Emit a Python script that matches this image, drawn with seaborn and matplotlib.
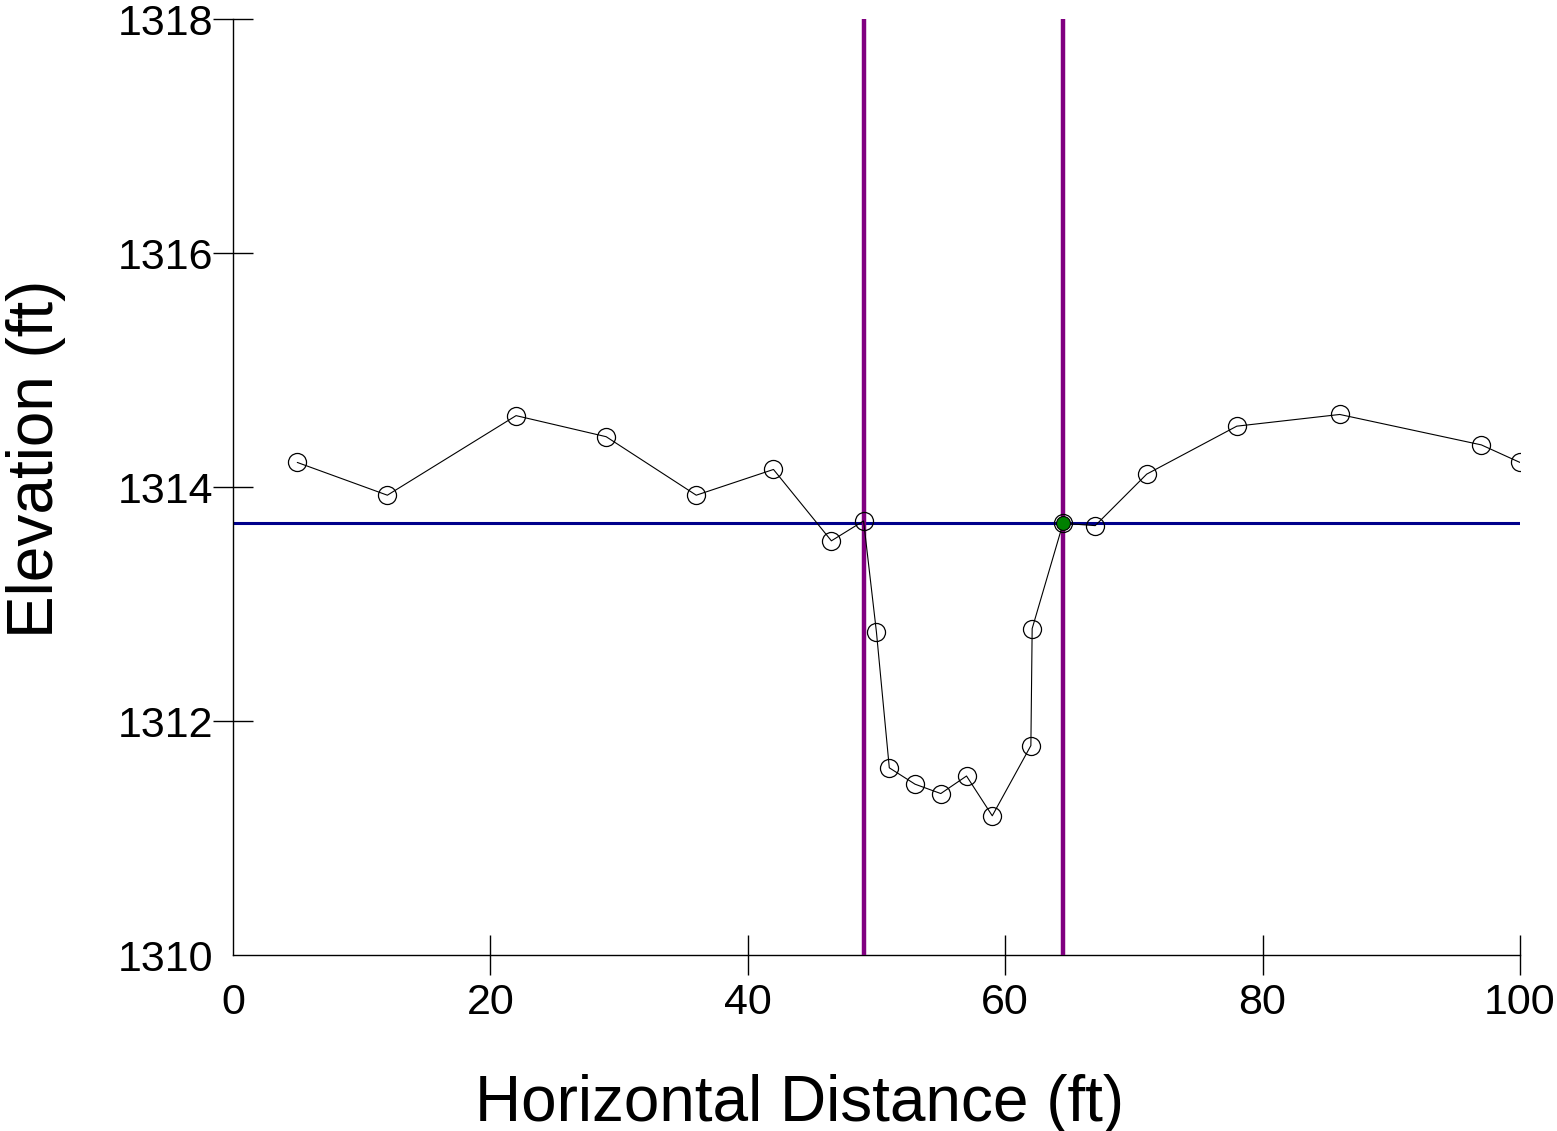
import pandas as pd
import matplotlib
import matplotlib.pyplot as plt
import seaborn as sns

# station / elevation of the surveyed cross section
station = [5, 12, 22, 29, 36, 42, 46.5, 49, 50, 51, 53, 55, 57, 59, 62, 62.1,
           64.5, 67, 71, 78, 86, 97, 100]
elevation = [1314.21, 1313.93, 1314.61, 1314.43, 1313.93, 1314.15, 1313.54,
             1313.71, 1312.76, 1311.60, 1311.46, 1311.38, 1311.53, 1311.19,
             1311.79, 1312.79, 1313.69, 1313.67, 1314.11, 1314.52, 1314.62,
             1314.36, 1314.21]

water_level = 1313.69
bank_stations = [49, 64.5]
gauge_x = [64.5]
gauge_y = [1313.69]

sns.set_style("white")
plt.rcParams['font.family'] = ['Liberation Sans', 'DejaVu Sans']
plt.rcParams['text.color'] = 'black'
plt.rcParams['axes.labelcolor'] = 'black'
plt.rcParams['xtick.color'] = 'black'
plt.rcParams['ytick.color'] = 'black'

df = pd.DataFrame({'x': station, 'y': elevation})

fig = plt.figure(figsize=(15.57, 11.31), dpi=100)
ax = fig.add_axes([0.1496, 0.1556, 0.8266, 0.8276])

ax.axhline(water_level, color='#00008B', lw=2.2, zorder=2)
for b in bank_stations:
    ax.axvline(b, color='#800080', lw=3.2, zorder=3)

sns.lineplot(data=df, x='x', y='y', ax=ax, sort=False, color='black', lw=0.8,
             marker='o', markersize=13, markerfacecolor='none',
             markeredgecolor='black', markeredgewidth=0.9, zorder=4)
ax.scatter(gauge_x, gauge_y, s=100, color='green', edgecolor='black',
           linewidth=0.8, zorder=5)

ax.set_xlim(0, 100)
ax.set_ylim(1310, 1318)
ax.set_xticks([0, 20, 40, 60, 80, 100])
ax.set_yticks([1310, 1312, 1314, 1316, 1318])
ax.tick_params(bottom=True, left=True, direction='inout', length=28.8,
               width=1, labelsize=31, colors='black')
ax.tick_params(axis='x', pad=6)
ax.tick_params(axis='y', pad=0)
ax.xaxis.get_major_ticks()[0].tick1line.set_visible(False)
ax.yaxis.get_major_ticks()[0].tick1line.set_visible(False)
sns.despine(ax=ax)
for s in ['left', 'bottom']:
    ax.spines[s].set_color('black')
    ax.spines[s].set_linewidth(1)

ax.set_xlabel("Horizontal Distance (ft)", fontsize=46)
ax.set_ylabel("Elevation (ft)", fontsize=46, labelpad=37)
ax.xaxis.set_label_coords(0.4406, -0.127)
ax.yaxis.label.set_y(0.530)

plt.savefig("out.png", dpi=100)
